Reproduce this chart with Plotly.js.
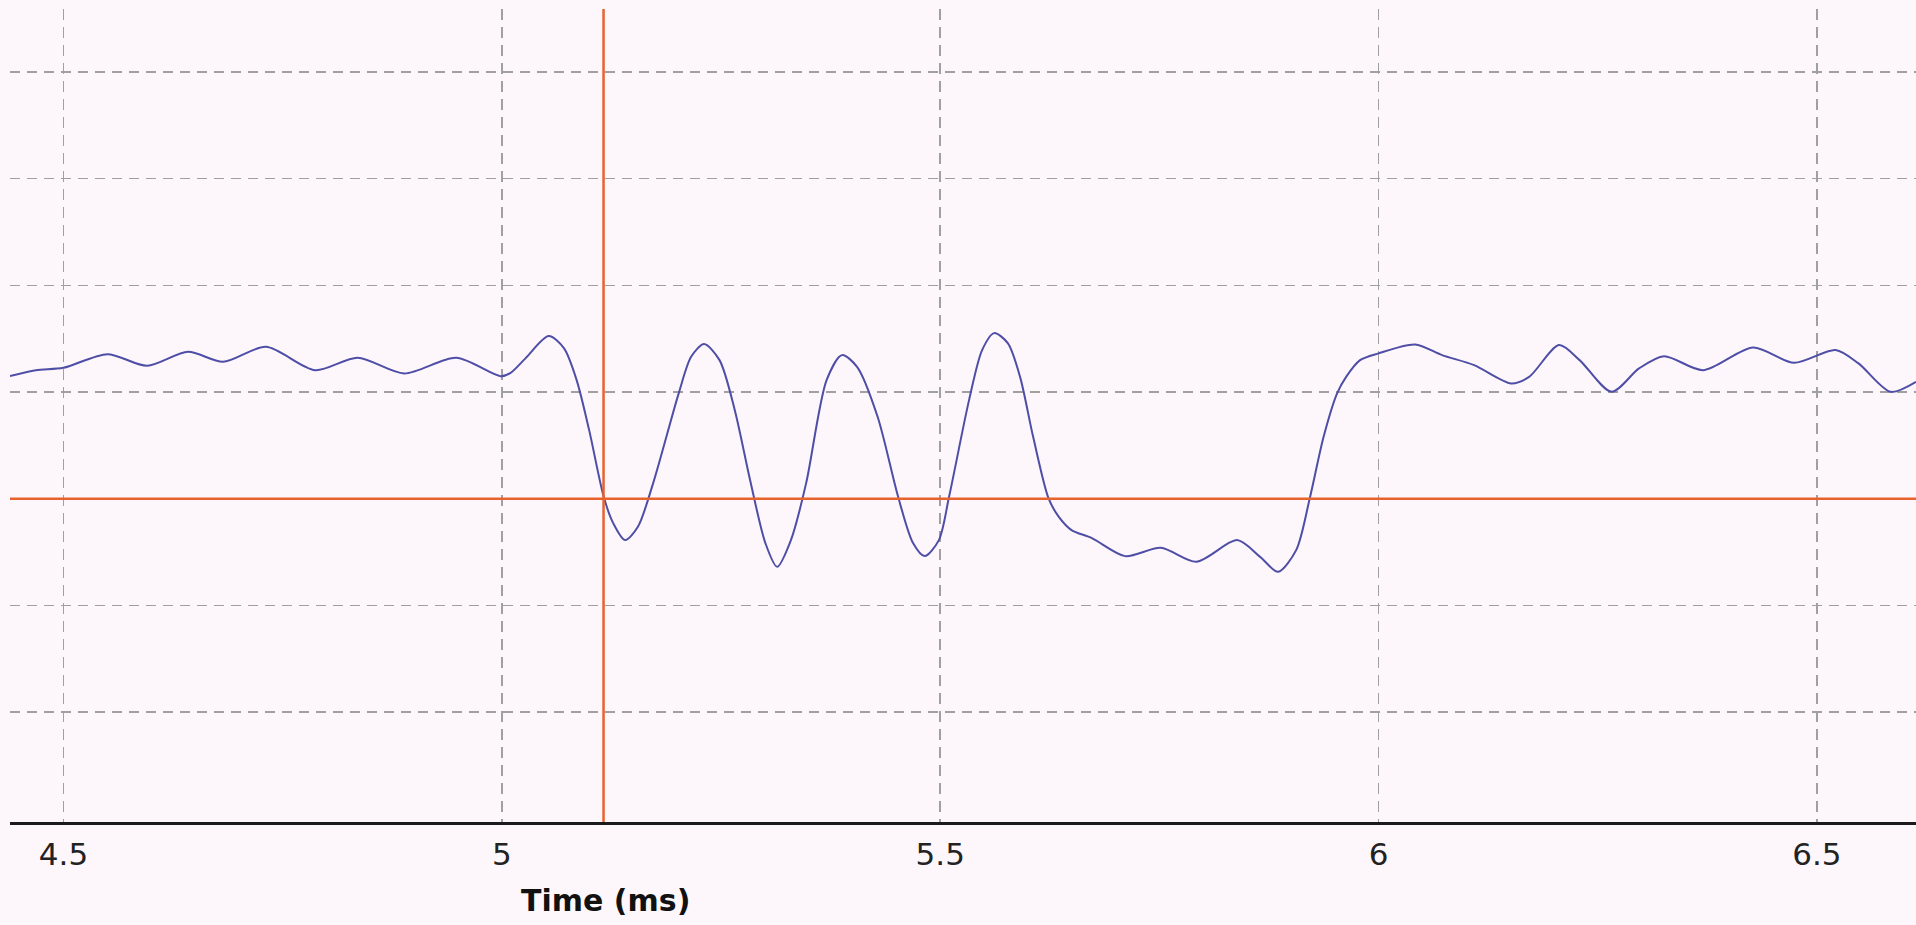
<!DOCTYPE html>
<html>
<head>
<meta charset="utf-8">
<script src="https://cdn.plot.ly/plotly-3.0.1.min.js"></script>
<style>
html,body{margin:0;padding:0;background:#fdf7fc;}
#chart{width:1916px;height:925px;}
</style>
</head>
<body>
<div id="chart"></div>
<script>
// Time axis (ms) and signal amplitude (arbitrary units, one grid step = 1)
const timeMs = [4.439,4.4685,4.500,4.550,4.5955,4.642,4.682,4.731,4.787,4.8355,4.8886,4.948,4.9985,
  5.0095,5.0272,5.0534,5.0708,5.0853,5.0996,5.1162,5.1270,5.1406,5.1552,5.1726,5.2018,5.2159,5.2307,
  5.2483,5.2657,5.2832,5.3006,5.3140,5.3297,5.3471,5.3704,5.3879,5.4052,5.4286,5.4520,5.4690,5.4822,
  5.4985,5.5101,5.5329,5.5478,5.5615,5.5771,5.5911,5.6060,5.6236,5.6353,5.6498,5.6730,5.7109,5.7516,
  5.7923,5.8386,5.8649,5.8854,5.9060,5.9215,5.9373,5.9527,5.9630,5.9789,5.9998,6.0416,6.0724,6.1090,
  6.1512,6.1717,6.2059,6.2293,6.2658,6.2971,6.3256,6.3701,6.4271,6.4739,6.5213,6.5474,6.5839,6.6130];
const signal = [1.149,1.205,1.227,1.355,1.246,1.377,1.283,1.424,1.205,1.321,1.174,1.321,1.149,
  1.177,1.318,1.524,1.411,1.112,0.643,0.018,-0.229,-0.388,-0.263,0.146,0.990,1.330,1.449,
  1.299,0.830,0.174,-0.416,-0.638,-0.388,0.146,1.112,1.346,1.236,0.768,0.018,-0.416,-0.538,
  -0.388,0.018,0.924,1.393,1.552,1.458,1.142,0.580,0.003,-0.170,-0.294,-0.369,-0.538,-0.460,
  -0.591,-0.388,-0.545,-0.685,-0.482,0.003,0.580,0.987,1.142,1.299,1.362,1.446,1.346,1.252,
  1.081,1.142,1.440,1.299,1.002,1.221,1.336,1.205,1.418,1.274,1.393,1.268,1.002,1.096];

// Cursor positions (data coordinates)
const cursorTime = 5.116;
const cursorLevel = 0;

// Axis settings
const xRange = [4.439, 6.613];
const yRange = [-3.03, 4.59];
const xTickVals = [4.5, 5, 5.5, 6, 6.5];
const xTickText = ["4.5", "5", "5.5", "6", "6.5"];
const yGridVals = [-2, -1, 0, 1, 2, 3, 4];
const xTitle = "Time (ms)";

const traces = [{
  x: timeMs, y: signal, type: 'scatter', mode: 'lines',
  line: {color: '#4e4ea6', width: 2, shape: 'spline', smoothing: 0.8},
  hoverinfo: 'skip', showlegend: false
}];

const layout = {
  width: 1916, height: 925,
  margin: {l: 10, r: 0, t: 9, b: 103},
  paper_bgcolor: '#fdf7fc', plot_bgcolor: '#fdf7fc',
  showlegend: false,
  xaxis: {
    range: xRange, tickvals: xTickVals, ticktext: xTickText,
    showgrid: true, gridcolor: '#a0a0a0', gridwidth: 1.5, griddash: '11px,7px',
    zeroline: false, showline: true, linecolor: '#1a1a1a', linewidth: 2.5,
    ticks: '', ticklabelstandoff: 3,
    tickfont: {family: 'DejaVu Sans', size: 31, color: '#222'}
  },
  yaxis: {
    range: yRange, tickvals: yGridVals,
    showgrid: true, gridcolor: '#a0a0a0', gridwidth: 1.5, griddash: '10px,7px',
    zeroline: false, showline: false, showticklabels: false, ticks: ''
  },
  shapes: [
    {type: 'line', xref: 'x', yref: 'paper', x0: cursorTime, x1: cursorTime, y0: 0, y1: 1,
     line: {color: '#e8622e', width: 2.5}},
    {type: 'line', xref: 'paper', yref: 'y', x0: 0, x1: 1, y0: cursorLevel, y1: cursorLevel,
     line: {color: '#e8622e', width: 2.5}}
  ],
  annotations: [{
    text: '<b>' + xTitle + '</b>', xref: 'x', yref: 'paper', x: 5.118, y: -0.096,
    xanchor: 'center', yanchor: 'middle', showarrow: false,
    font: {family: 'DejaVu Sans', size: 30, color: '#111'}
  }]
};

Plotly.newPlot('chart', traces, layout, {displayModeBar: false, staticPlot: true});
</script>
</body>
</html>
